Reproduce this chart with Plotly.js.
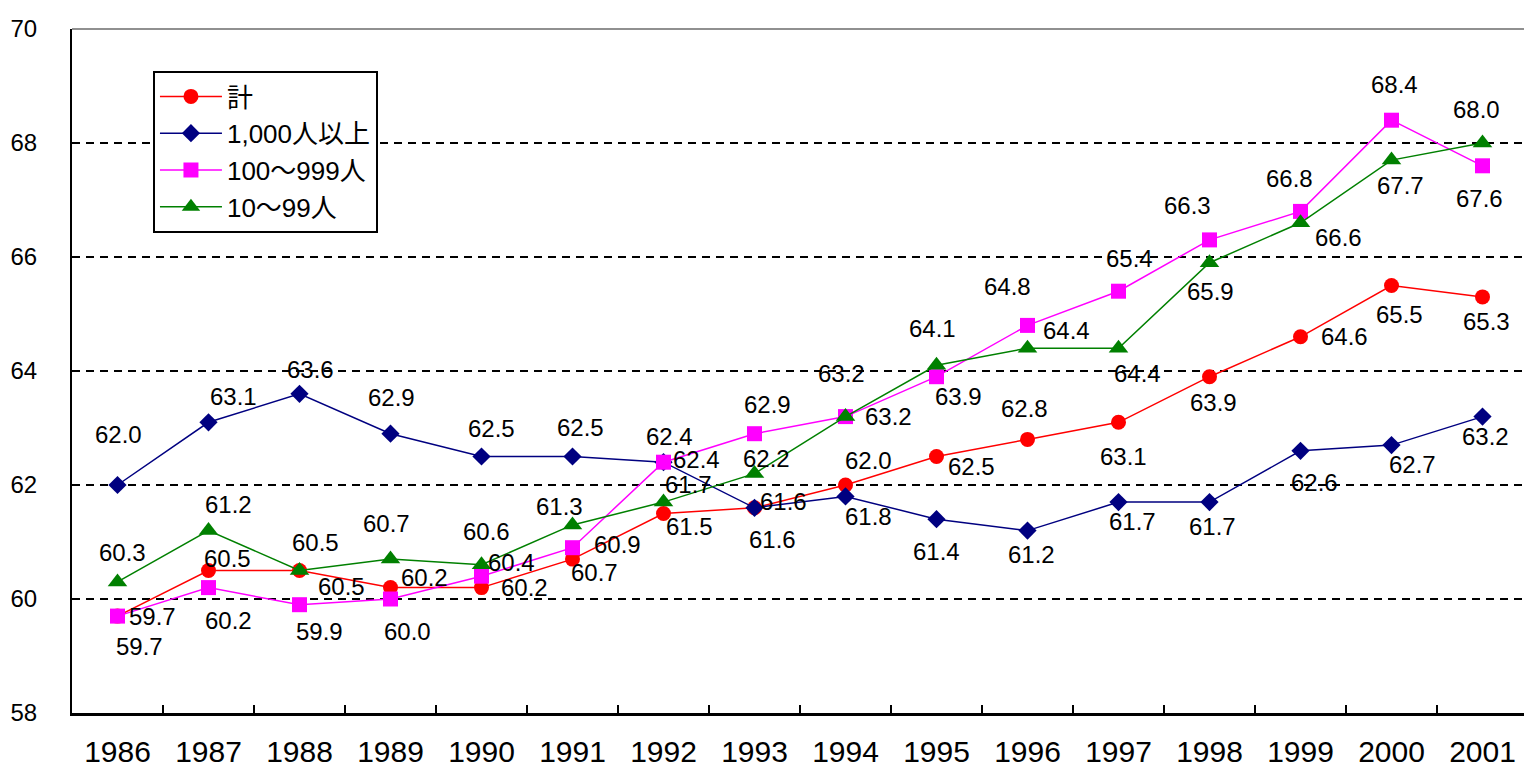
<!DOCTYPE html>
<html>
<head>
<meta charset="utf-8">
<script src="https://cdn.plot.ly/plotly-3.0.1.min.js"></script>
<style>
html,body{margin:0;padding:0;overflow:hidden;background:#fff;}
#chart{width:1528px;height:769px;}
</style>
</head>
<body>
<div id="chart"></div>
<script>
// ---- data ----
const years = ["1986","1987","1988","1989","1990","1991","1992","1993","1994","1995","1996","1997","1998","1999","2000","2001"];
const seriesNames = ["計", "1,000人以上", "100～999人", "10～99人"];
const total      = [59.7,60.5,60.5,60.2,60.2,60.7,61.5,61.6,62.0,62.5,62.8,63.1,63.9,64.6,65.5,65.3];
const large      = [62.0,63.1,63.6,62.9,62.5,62.5,62.4,61.6,61.8,61.4,61.2,61.7,61.7,62.6,62.7,63.2];
const medium     = [59.7,60.2,59.9,60.0,60.4,60.9,62.4,62.9,63.2,63.9,64.8,65.4,66.3,66.8,68.4,67.6];
const small      = [60.3,61.2,60.5,60.7,60.6,61.3,61.7,62.2,63.2,64.1,64.4,64.4,65.9,66.6,67.7,68.0];

// ---- label offsets (style: pixel shift of each data label from its point, [dx, dy-down]) ----
const offTotal  = [[35,0],[19,-12],[42,16],[34,-10],[43,0],[22,13],[26,13],[29,-6],[23,-25],[35,10],[-3,-31],[5,34],[4,26],[44,0],[8,29],[4,25]];
const offLarge  = [[1,-51],[25,-26],[11,-24],[1,-36],[10,-28],[8,-29],[6,-26],[18,32],[23,20],[0,32],[4,24],[14,19],[3,24],[14,32],[21,19],[3,20]];
const offMedium = [[22,30],[20,33],[20,27],[17,32],[30,-14],[45,-3],[33,-3],[13,-29],[-4,-43],[22,20],[-20,-39],[11,-33],[-22,-34],[-11,-33],[3,-36],[-3,33]];
const offSmall  = [[5,-29],[20,-26],[16,-28],[-4,-36],[5,-33],[-13,-18],[25,-18],[12,-15],[43,0],[-4,-37],[39,-18],[19,25],[1,29],[38,15],[9,25],[-6,-34]];

const FONT = "Liberation Sans, Arial, Noto Sans CJK JP, sans-serif";
const LFONT = "Liberation Sans, Noto Sans CJK JP, sans-serif";

const styles = [
  {color:"#FF0000", symbol:"circle", size:15},
  {color:"#000080", symbol:"diamond", size:14},
  {color:"#FF00FF", symbol:"square", size:15},
  {color:"#008000", symbol:"triangle-up", size:17}
];
const values = [total, large, medium, small];
const offsets = [offTotal, offLarge, offMedium, offSmall];

const traces = values.map((v, i) => ({
  type: "scatter",
  mode: "lines+markers",
  name: seriesNames[i],
  x: years,
  y: v,
  line: {color: styles[i].color, width: 1.5},
  marker: {color: styles[i].color, symbol: styles[i].symbol, size: styles[i].size, line:{width:0}},
  cliponaxis: false
}));

const annotations = [];
values.forEach((v, i) => {
  v.forEach((val, j) => {
    annotations.push({
      x: j, y: val, xref: "x", yref: "y",   // category index on the category axis
      text: val.toFixed(1),
      showarrow: false,
      xanchor: "center", yanchor: "middle",
      xshift: offsets[i][j][0], yshift: -offsets[i][j][1],
      font: {family: FONT, size: 24, color: "#000"}
    });
  });
});

const layout = {
  width: 1528, height: 769,
  margin: {l: 72, r: 0, t: 29, b: 56, pad: 0},
  paper_bgcolor: "#fff",
  plot_bgcolor: "#fff",
  showlegend: true,
  legend: {
    x: 0.0556, y: 0.9386, xanchor: "left", yanchor: "top",
    bgcolor: "#fff", bordercolor: "#000", borderwidth: 2,
    font: {family: LFONT, size: 26, color: "#000"},
    itemwidth: 62,
    tracegroupgap: 0
  },
  xaxis: {
    type: "category",
    categoryorder: "array", categoryarray: years,
    range: [-0.5, years.length - 0.5],
    autorange: false,
    tickson: "boundaries",
    ticks: "inside", ticklen: 8, tickwidth: 2, tickcolor: "#000",
    showline: true, linecolor: "#000", linewidth: 3,
    showgrid: false, zeroline: false,
    tickangle: 0,
    tickfont: {family: FONT, size: 30, color: "#000"},
    ticklabelstandoff: 10,
    automargin: false,
    fixedrange: true
  },
  yaxis: {
    range: [58, 70], autorange: false, dtick: 2, tick0: 58,
    showline: true, linecolor: "#000", linewidth: 2,
    showgrid: true, gridcolor: "#000", gridwidth: 2, griddash: "8px,6px",
    zeroline: false, ticks: "",
    tickfont: {family: FONT, size: 24, color: "#000"},
    ticklabelstandoff: 28,
    automargin: false,
    fixedrange: true
  },
  shapes: [
    {type: "line", xref: "paper", yref: "paper", x0: 0, x1: 1, y0: 1, y1: 1,
     line: {color: "#909090", width: 2}, layer: "above"}
  ],
  annotations: annotations
};

Plotly.newPlot("chart", traces, layout, {displayModeBar: false, staticPlot: true});
</script>
</body>
</html>
